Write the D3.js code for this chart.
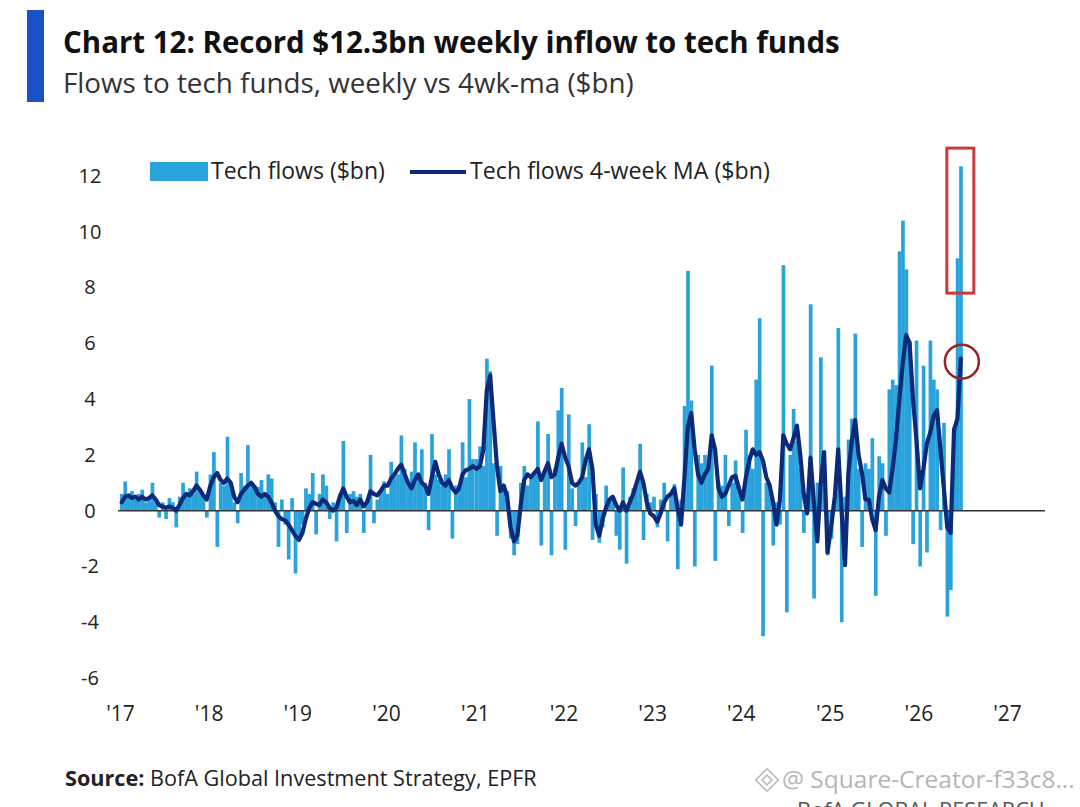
<!DOCTYPE html>
<html>
<head>
<meta charset="utf-8">
<script src="https://cdn.jsdelivr.net/npm/d3@7"></script>
<style>
    body { margin: 0; background: #fff; }
    svg { display: block; font-family: "Liberation Sans Narrow", "Open Sans", sans-serif; }
</style>
</head>
<body>
<div id="chart"></div>
<script>
// Data (biweekly readings, $bn)___________________________
const years = [2017, 2018, 2019, 2020, 2021, 2022, 2023, 2024, 2025, 2026];

const flows2017 = [0.6, 1.05, 0.5, 0.7, 0.4, 0.6, 0.75, 0.3, 0.5, 1.0, 0.4, -0.25, 0.3, -0.3, 0.45, 0.3, -0.6, 0.5, 1.0, 0.5, 0.8, 0.6, 1.4, 0.7, 0.5, -0.25];
const flows2018 = [1.3, 2.1, -1.3, 1.0, 0.9, 2.65, 1.0, 0.3, -0.45, 1.35, 0.9, 2.35, 1.0, 0.9, 0.85, 1.1, 0.6, 1.3, 1.15, 0.3, -1.3, 0.4, -0.5, -1.75, 0.45, -2.25];
const flows2019 = [-1.0, -0.5, 0.8, 0.6, 1.35, -0.85, 0.6, 1.3, 0.9, -0.3, 0.3, -1.1, 0.6, 2.5, -0.8, 0.6, 0.7, 0.5, 0.6, -0.8, 0.4, 2.0, -0.45, 0.4, 0.7, 1.05];
const flows2020 = [0.6, 1.75, 1.2, 1.3, 2.7, 1.5, 1.0, 1.4, 2.45, 1.2, 2.2, 1.0, -0.7, 2.75, 1.3, 1.1, 0.9, 1.3, 2.2, -1.0, 0.9, 0.8, 2.45, 1.2, 4.0, 1.85];
const flows2021 = [1.85, 2.3, 1.6, 5.45, 5.0, 1.7, -0.9, 1.6, 0.9, 0.7, -1.0, -1.6, -1.2, 1.0, 1.6, 0.9, 1.3, 1.4, 3.2, -1.25, 1.5, 2.75, -1.6, 1.5, 3.6, 4.4];
const flows2022 = [-1.4, 3.45, 0.8, -0.55, 1.0, 2.45, 1.2, 3.1, -1.05, 0.6, -1.15, -0.6, 0.9, 0.4, 0.5, -0.9, -1.4, 1.55, -1.9, 0.5, 0.8, 1.0, 2.4, -1.05, 0.6, 0.3];
const flows2023 = [0.5, -0.6, 0.4, 1.0, -1.1, 0.6, 0.95, -2.1, 0.4, 3.75, 8.6, 3.95, -2.0, 2.0, 1.7, 2.0, 1.6, 5.2, -1.8, 1.0, 0.9, 2.0, -0.55, 1.0, 1.8, 0.9];
const flows2024 = [-0.8, 2.9, 2.0, 1.5, 4.7, 6.9, -4.5, 1.0, 0.8, -1.25, 0.3, -0.5, 8.8, -3.65, 2.0, 3.65, 2.5, 1.5, -0.8, 0.3, 7.4, -3.15, 1.0, 5.5, 1.7, -1.6];
const flows2025 = [-1.0, 0.5, 6.55, -4.0, 0.5, 2.55, 3.3, 6.35, 1.5, -1.3, 1.7, 1.5, 2.6, -3.05, 1.95, 1.7, -0.9, 4.35, 4.7, 4.5, 9.3, 10.4, 8.65, 6.1, -1.2, 6.1];
const flows2026 = [-2.0, 5.2, -1.5, 6.1, 4.7, 4.35, -0.7, 3.15, -3.8, -2.85, 3.0, 9.05, 12.35];

const ma2017 = [0.3, 0.5, 0.55, 0.45, 0.5, 0.4, 0.5, 0.4, 0.45, 0.55, 0.4, 0.2, 0.15, 0.1, 0.15, 0.1, 0.0, 0.2, 0.45, 0.6, 0.55, 0.7, 0.9, 0.75, 0.55, 0.4];
const ma2018 = [0.9, 1.2, 1.35, 1.1, 1.0, 1.15, 1.0, 0.5, 0.3, 0.6, 0.75, 0.9, 1.0, 0.85, 0.6, 0.5, 0.6, 0.5, 0.3, 0.0, -0.2, -0.3, -0.35, -0.5, -0.7, -0.9];
const ma2019 = [-1.05, -0.8, -0.3, 0.1, 0.3, 0.25, 0.2, 0.4, 0.3, 0.1, 0.0, 0.1, 0.5, 0.8, 0.5, 0.3, 0.35, 0.2, 0.4, 0.15, 0.3, 0.7, 0.6, 0.55, 0.7, 0.9];
const ma2020 = [0.9, 1.15, 1.3, 1.5, 1.65, 1.3, 1.0, 0.8, 1.1, 1.3, 1.0, 0.9, 0.6, 1.2, 1.75, 1.3, 1.0, 0.9, 1.1, 0.8, 0.65, 0.8, 1.3, 1.45, 1.5, 1.6];
const ma2021 = [1.5, 1.6, 2.2, 4.3, 4.85, 3.2, 1.6, 0.7, 0.9, 0.5, -0.6, -1.1, -0.9, 0.2, 1.1, 1.3, 1.2, 1.35, 1.5, 1.1, 1.4, 1.7, 1.2, 1.3, 1.9, 2.4];
const ma2022 = [1.9, 1.6, 1.0, 0.9, 1.0, 1.2, 1.8, 2.2, 1.5, -0.5, -0.9, -0.3, 0.1, 0.4, 0.5, 0.2, 0.0, 0.3, 0.0, 0.3, 0.6, 1.0, 1.4, 1.0, 0.3, -0.1];
const ma2023 = [-0.2, -0.4, -0.1, 0.3, 0.5, 0.6, 0.8, 0.1, -0.5, 1.2, 3.0, 3.5, 2.2, 1.3, 1.0, 1.3, 1.5, 2.7, 2.2, 0.8, 0.5, 0.6, 0.9, 1.2, 1.25, 0.8];
const ma2024 = [0.4, 1.2, 1.8, 2.2, 2.0, 2.1, 1.8, 1.2, 0.9, 0.3, -0.5, 0.4, 2.7, 2.4, 2.2, 2.6, 3.05, 2.0, 0.6, -0.1, 1.9, 0.3, -1.1, 1.0, 2.1, -1.5];
const ma2025 = [-0.5, 0.5, 2.2, 0.0, -1.95, 1.35, 2.5, 3.25, 2.0, 1.35, 0.4, 0.4, -0.3, -0.7, 0.5, 1.1, 0.8, 0.65, 1.5, 2.55, 4.0, 5.3, 6.3, 6.0, 4.0, 2.55];
const ma2026 = [0.8, 1.5, 2.4, 2.8, 3.4, 3.6, 2.2, 0.8, -0.6, -0.8, 2.9, 3.3, 5.45];

const yTicks = [-6, -4, -2, 0, 2, 4, 6, 8, 10, 12];
const xTickYears = [2017, 2018, 2019, 2020, 2021, 2022, 2023, 2024, 2025, 2026, 2027];

const flowsByYear = [flows2017, flows2018, flows2019, flows2020, flows2021, flows2022, flows2023, flows2024, flows2025, flows2026];
const maByYear = [ma2017, ma2018, ma2019, ma2020, ma2021, ma2022, ma2023, ma2024, ma2025, ma2026];

let data = [];
years.forEach((yr, k) => {
    flowsByYear[k].forEach((v, i) => {
        data.push({ date: new Date(yr, 0, 1 + 14 * i), end: new Date(yr, 0, 15 + 14 * i), flow: v, ma: maByYear[k][i] });
    });
});

// Setup___________________________________________
const width = 1080;
const height = 807;
const barColor = '#2aa3dd';
const maColor = '#0c2a78';
const fontStack = '"Liberation Sans Narrow", "Open Sans", sans-serif';

const svg = d3.select('#chart')
    .append('svg')
    .attr('width', width)
    .attr('height', height);

svg.append('rect').attr('width', width).attr('height', height).attr('fill', '#fff');

const xScale = d3.scaleTime()
    .domain([new Date(2017, 0, 1), new Date(2027, 0, 1)])
    .range([120, 1007]);
const yScale = d3.scaleLinear()
    .domain([-6, 12])
    .range([678, 176]);

// shrink/grow a text so it spans the width seen in the picture
function fitWidth(t, w) {
    const len = t.node().getComputedTextLength();
    t.attr('font-size', +t.attr('font-size') * w / len);
}

// Header__________________________________________
svg.append('rect')
    .attr('x', 27).attr('y', 10)
    .attr('width', 17).attr('height', 92)
    .attr('fill', '#1a52c6');

const title = svg.append('text')
    .attr('x', 63).attr('y', 53)
    .attr('font-size', 32)
    .attr('font-weight', 'bold')
    .attr('fill', '#111')
    .text('Chart 12: Record $12.3bn weekly inflow to tech funds');
fitWidth(title, 777);

const subtitle = svg.append('text')
    .attr('x', 63).attr('y', 93)
    .attr('font-size', 29)
    .attr('fill', '#333')
    .text('Flows to tech funds, weekly vs 4wk-ma ($bn)');
fitWidth(subtitle, 571);

// Bars____________________________________________
svg.append('g')
    .selectAll('rect')
    .data(data)
    .enter()
    .append('rect')
    .attr('x', d => xScale(d.date))
    .attr('width', d => xScale(d.end) - xScale(d.date) + 0.3)
    .attr('y', d => yScale(Math.max(0, d.flow)))
    .attr('height', d => Math.abs(yScale(d.flow) - yScale(0)))
    .attr('fill', barColor);

// Zero line
svg.append('line')
    .attr('x1', 118).attr('x2', 1045)
    .attr('y1', yScale(0)).attr('y2', yScale(0))
    .attr('stroke', '#333')
    .attr('stroke-width', 1.5);

// MA line
const maLine = d3.line()
    .x(d => (xScale(d.date) + xScale(d.end)) / 2)
    .y(d => yScale(d.ma));

svg.append('path')
    .datum(data)
    .attr('d', maLine)
    .attr('fill', 'none')
    .attr('stroke', maColor)
    .attr('stroke-width', 4.2)
    .attr('stroke-linejoin', 'round')
    .attr('stroke-linecap', 'round');

// Axes____________________________________________
const yAxis = d3.axisLeft(yScale)
    .tickValues(yTicks)
    .tickFormat(d => String(d))
    .tickSize(0)
    .tickPadding(0);

svg.append('g')
    .attr('transform', 'translate(90, 0)')
    .call(yAxis)
    .call(g => g.select('.domain').remove())
    .selectAll('text')
    .attr('x', 0)
    .attr('text-anchor', 'middle')
    .attr('font-size', 20)
    .attr('font-family', fontStack)
    .attr('fill', '#222');

const xAxis = d3.axisBottom(xScale)
    .tickValues(xTickYears.map(y => new Date(y, 0, 1)))
    .tickFormat(d3.timeFormat("'%y"))
    .tickSize(0)
    .tickPadding(8);

svg.append('g')
    .attr('transform', 'translate(0, 698)')
    .call(xAxis)
    .call(g => g.select('.domain').remove())
    .selectAll('text')
    .attr('font-size', 21)
    .attr('font-family', fontStack)
    .attr('fill', '#222');

// Legend__________________________________________
const legend = svg.append('g').attr('class', 'legend');

legend.append('rect')
    .attr('x', 150).attr('y', 162)
    .attr('width', 58).attr('height', 19)
    .attr('fill', barColor);

const leg1 = legend.append('text')
    .attr('x', 211).attr('y', 179)
    .attr('font-size', 20)
    .attr('fill', '#222')
    .text('Tech flows ($bn)');
fitWidth(leg1, 174);

legend.append('line')
    .attr('x1', 410).attr('x2', 466)
    .attr('y1', 172).attr('y2', 172)
    .attr('stroke', maColor)
    .attr('stroke-width', 4);

const leg2 = legend.append('text')
    .attr('x', 470).attr('y', 179)
    .attr('font-size', 20)
    .attr('fill', '#222')
    .text('Tech flows 4-week MA ($bn)');
fitWidth(leg2, 300);

// Annotations_____________________________________
const last = data[data.length - 1];
const lastX = (xScale(last.date) + xScale(last.end)) / 2;

svg.append('rect')
    .attr('x', lastX - 14)
    .attr('y', yScale(13))
    .attr('width', 27)
    .attr('height', yScale(7.8) - yScale(13))
    .attr('fill', 'none')
    .attr('stroke', '#c83a3c')
    .attr('stroke-width', 3);

svg.append('circle')
    .attr('cx', lastX + 1)
    .attr('cy', yScale(last.ma) + 3)
    .attr('r', 17)
    .attr('fill', 'none')
    .attr('stroke', '#9e1f24')
    .attr('stroke-width', 2.5);

// Footer__________________________________________
const source = svg.append('text')
    .attr('x', 65).attr('y', 786)
    .attr('font-size', 21)
    .attr('fill', '#222');
source.append('tspan').attr('font-weight', 'bold').text('Source:');
source.append('tspan').text(' BofA Global Investment Strategy, EPFR');
fitWidth(source, 472);

const mark = svg.append('g')
    .attr('transform', 'translate(767, 780)')
    .attr('fill', 'none')
    .attr('stroke', '#bbb')
    .attr('stroke-width', 1.6);
mark.append('rect').attr('x', -8).attr('y', -8).attr('width', 16).attr('height', 16).attr('transform', 'rotate(45)');
mark.append('rect').attr('x', -3.5).attr('y', -3.5).attr('width', 7).attr('height', 7).attr('transform', 'rotate(45)');

const wm = svg.append('text')
    .attr('x', 782).attr('y', 788)
    .attr('font-size', 23)
    .attr('fill', '#b5b5b5')
    .text('@ Square-Creator-f33c8...');
fitWidth(wm, 293);

// partly below the bottom edge, as in the source picture
const bofa = svg.append('text')
    .attr('x', 797).attr('y', 818)
    .attr('font-size', 24)
    .attr('fill', '#555')
    .text('BofA GLOBAL RESEARCH');
fitWidth(bofa, 248);
</script>
</body>
</html>
